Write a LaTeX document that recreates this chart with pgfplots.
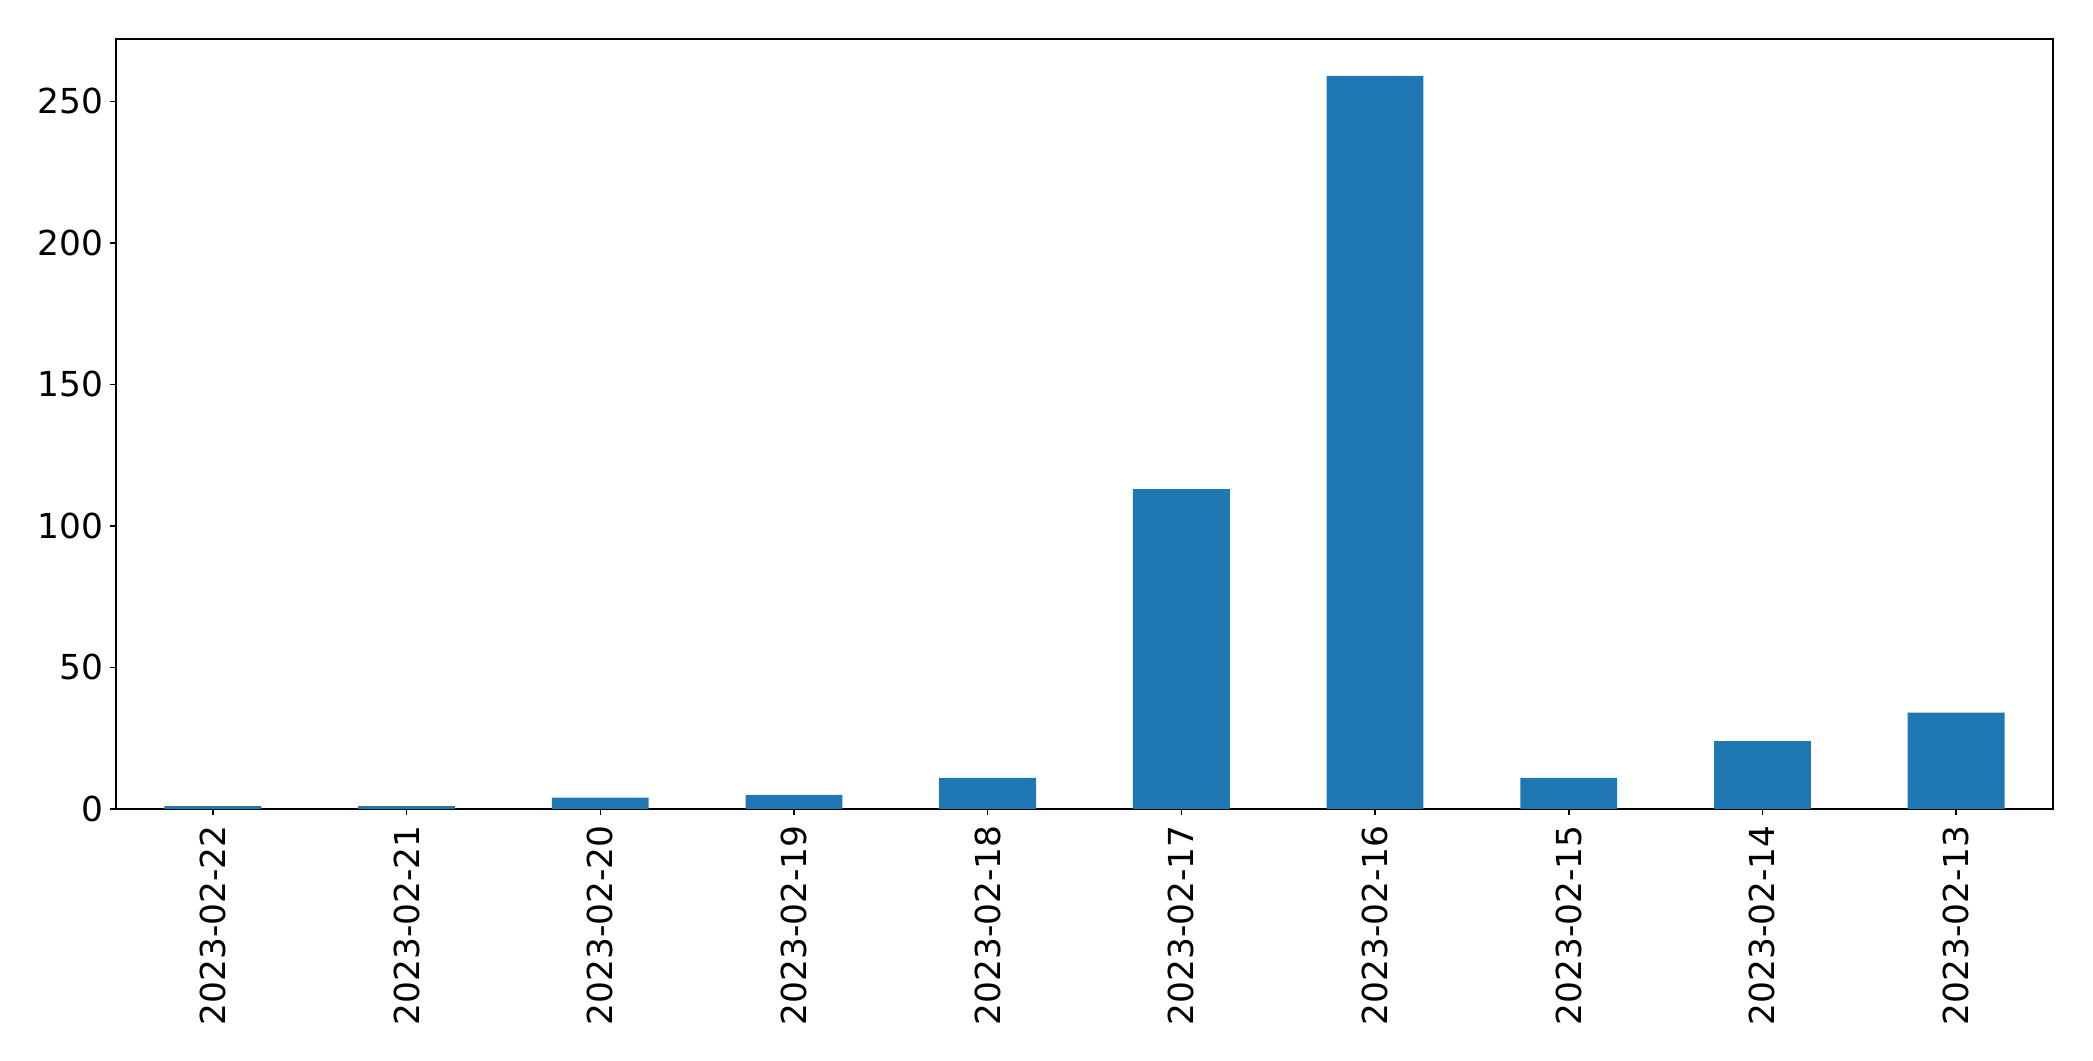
\documentclass[border=0pt]{standalone}
\usepackage{pgfplots}
\pgfplotsset{compat=1.18}
\usepackage{fontspec}
\setmainfont{DejaVu Sans}
\definecolor{mplblue}{HTML}{1F77B4}
\begin{document}
\begin{tikzpicture}
\begin{axis}[
  width=968.5pt, height=385pt, scale only axis,
  xmin=-0.5, xmax=9.5, ymin=0, ymax=272,
  xtick={0,...,9},
  xticklabels={2023-02-22,2023-02-21,2023-02-20,2023-02-19,2023-02-18,2023-02-17,2023-02-16,2023-02-15,2023-02-14,2023-02-13},
  ytick={0,50,100,150,200,250},
  xticklabel style={rotate=90, anchor=east, font=\fontsize{17.2}{20}\selectfont, inner xsep=5pt, inner ysep=1pt},
  yticklabel style={font=\fontsize{17.2}{20}\selectfont, inner xsep=3.3pt, inner ysep=1pt},
  /pgf/number format/assume math mode=true,
  tick align=outside, major tick length=3pt,
  xtick pos=bottom, ytick pos=left,
  axis line style={line width=0.75pt},
  every tick/.style={black, line width=0.75pt},
  tick label style={/pgf/number format/fixed},
]
\addplot[ybar, bar width=0.5, fill=mplblue, draw=none] coordinates {
(0,1) (1,1) (2,4) (3,5) (4,11) (5,113) (6,259) (7,11) (8,24) (9,34)
};
\end{axis}
\path (current axis.south west) +(-58pt,-126pt) (current axis.north east) +(20pt,19.5pt);
\end{tikzpicture}
\end{document}
